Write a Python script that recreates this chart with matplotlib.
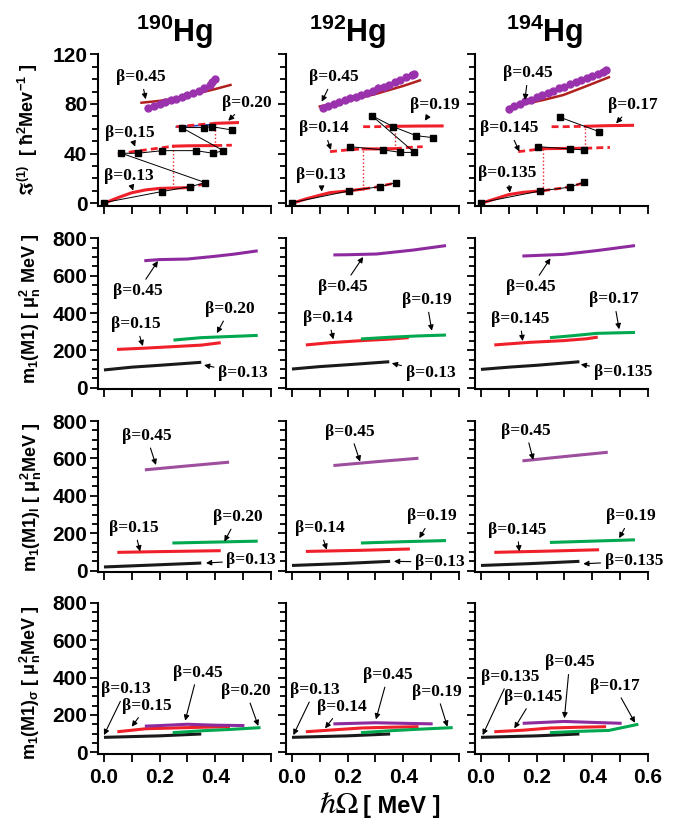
import matplotlib
matplotlib.use('Agg')
import matplotlib.pyplot as plt
from matplotlib.ticker import MultipleLocator, FuncFormatter

plt.rcParams['font.family'] = ['Liberation Sans', 'DejaVu Sans']
plt.rcParams['font.weight'] = 'bold'
plt.rcParams['mathtext.fontset'] = 'custom'
plt.rcParams['mathtext.rm'] = 'Liberation Sans:bold'
plt.rcParams['mathtext.bf'] = 'Liberation Sans:bold'
plt.rcParams['mathtext.it'] = 'Liberation Sans:bold'
plt.rcParams['mathtext.default'] = 'bf'
plt.rcParams['mathtext.fallback'] = 'stix'

NUCLEI = ['190', '192', '194']

# --- row 1: kinematic moment of inertia J(1) ---
# beta = 0.45 band, circles (calc.) and dark-red line
J1_CIRC_X = {
    '190': [0.16, 0.18, 0.20, 0.22, 0.24, 0.26, 0.28, 0.30, 0.32, 0.34, 0.36, 0.38, 0.39, 0.40],
    '192': [0.11, 0.13, 0.15, 0.17, 0.19, 0.21, 0.23, 0.25, 0.27, 0.29, 0.31, 0.33, 0.35, 0.37,
            0.39, 0.41, 0.43, 0.44],
    '194': [0.10, 0.12, 0.14, 0.16, 0.18, 0.20, 0.22, 0.24, 0.26, 0.28, 0.30, 0.32, 0.34, 0.36,
            0.38, 0.40, 0.42, 0.44, 0.45],
}
J1_CIRC_Y = {
    '190': [76.5, 78.5, 80, 81.5, 83, 84, 85.5, 87, 88.5, 90.5, 92.5, 95, 97.5, 100.5],
    '192': [76.5, 78.5, 80, 81.5, 83, 84.5, 86, 87.5, 89, 90.5, 92.5, 94, 95.5, 97.5,
            99.5, 101.5, 103, 104],
    '194': [75.7, 78, 80.3, 82, 83.5, 85.5, 87.5, 89, 90.5, 92.5, 94, 96, 97.5, 99.5,
            101, 102.5, 104.5, 106, 107],
}
J1_LINE_X = {
    '190': [0.135, 0.20, 0.25, 0.30, 0.345, 0.40, 0.455],
    '192': [0.10, 0.20, 0.30, 0.40, 0.46],
    '194': [0.10, 0.224, 0.296, 0.368, 0.46],
}
J1_LINE_Y = {
    '190': [81, 82.5, 84.3, 86.5, 89, 92, 95.3],
    '192': [78, 82.5, 88, 94.5, 99],
    '194': [77.3, 83.2, 87.2, 93.4, 101.5],
}

# experimental J(1), None breaks the connecting line
J1_EXP_X = {
    '190': [0.0, 0.207, 0.31, 0.365, 0.063, 0.121, 0.21, 0.33, 0.393, 0.429,
            0.279, 0.36, 0.388, 0.462],
    '192': [0.0, 0.206, 0.317, 0.373, None, 0.209, 0.328, 0.39, 0.44,
            0.287, 0.364, 0.446, 0.506],
    '194': [0.0, 0.214, 0.32, 0.37, None, 0.206, 0.32, 0.371, None, 0.284, 0.425],
}
J1_EXP_Y = {
    '190': [0.5, 9.4, 13.4, 16.6, 40.3, 40.3, 42.4, 42.4, 40.3, 42.4,
            61, 61, 61.7, 59],
    '192': [0.5, 10, 13.4, 16.6, None, 45.6, 43, 41, 41,
            70.6, 61.7, 54.5, 52.9],
    '194': [0.5, 10, 13, 17, None, 45.6, 43.8, 43, None, 69.3, 57.7],
}

# calculated bands: (x, y, solid_from, solid_to), dashed elsewhere
J1_BAND_LOW = {
    '190': ([0.0, 0.05, 0.10, 0.15, 0.20, 0.25, 0.30, 0.37],
            [0, 4.5, 8.5, 10.8, 12, 12.3, 12.6, 16], 0.0, 0.30),
    '192': ([0.0, 0.05, 0.10, 0.137, 0.20, 0.256, 0.30, 0.377],
            [0, 3.5, 6.5, 8.6, 9.9, 11.5, 13, 16.6], 0.0, 0.256),
    '194': ([0.0, 0.05, 0.10, 0.15, 0.224, 0.30, 0.375],
            [0, 3.5, 7, 8.8, 10.2, 12.5, 16.6], 0.0, 0.224),
}
J1_BAND_MID = {
    '190': ([0.05, 0.10, 0.15, 0.20, 0.25, 0.30, 0.35, 0.40, 0.46],
            [39.5, 41.5, 43, 44.5, 46, 46.3, 46.4, 46.5, 46.8], 0.25, 0.40),
    '192': ([0.137, 0.20, 0.256, 0.30, 0.37, 0.42, 0.47],
            [41.6, 43, 43.8, 43.8, 44, 45, 45.6], 0.256, 0.37),
    '194': ([0.134, 0.18, 0.224, 0.30, 0.375, 0.42, 0.464],
            [41.6, 42.8, 44, 44.2, 44.3, 44.7, 45], 0.224, 0.375),
}
J1_BAND_TOP = {
    '190': ([0.26, 0.30, 0.35, 0.40, 0.48], [61.7, 62.5, 63.5, 64.4, 65], 0.40, 0.48),
    '192': ([0.256, 0.30, 0.37, 0.45, 0.54], [61.7, 61.7, 62, 62.2, 62.3], 0.37, 0.54),
    '194': ([0.254, 0.30, 0.375, 0.45, 0.545], [61.7, 61.7, 62, 62.5, 62.8], 0.375, 0.545),
}
# blue reference line under the top band of 190Hg
J1_BLUE_X = [0.26, 0.33, 0.40]
J1_BLUE_Y = [61.5, 62.5, 63.5]
# band crossings (x, y_low, y_high)
J1_CROSS = {
    '190': [(0.25, 12.3, 46), (0.40, 46.5, 64.4)],
    '192': [(0.256, 11.5, 43.8), (0.37, 44, 62)],
    '194': [(0.224, 10.2, 44), (0.375, 44.3, 62)],
}

BETAS = {
    '190': ['0.13', '0.15', '0.20', '0.45'],
    '192': ['0.13', '0.14', '0.19', '0.45'],
    '194': ['0.135', '0.145', '0.17', '0.45'],
}

# --- rows 2-4: m1(M1) total, orbital, spin; per beta (x, y) ---
M1_TOT = {
    '190': [([0.0, 0.1, 0.2, 0.35], [95, 110, 120, 136]),
            ([0.047, 0.15, 0.25, 0.35, 0.42], [205, 212, 220, 228, 241]),
            ([0.25, 0.35, 0.45, 0.553], [255, 268, 274, 280]),
            ([0.145, 0.2, 0.3, 0.395, 0.467, 0.553], [680, 686, 689, 703, 715, 733])],
    '192': [([0.0, 0.1, 0.2, 0.35], [100, 113, 123, 139]),
            ([0.05, 0.137, 0.25, 0.35, 0.42], [229, 241, 252, 260, 268]),
            ([0.248, 0.35, 0.45, 0.554], [261, 270, 277, 282]),
            ([0.149, 0.2, 0.305, 0.436, 0.554], [711, 712, 716, 737, 761])],
    '194': [([0.0, 0.1, 0.2, 0.354], [98, 110, 120, 139]),
            ([0.048, 0.176, 0.296, 0.38, 0.42], [229, 243, 252, 262, 271]),
            ([0.248, 0.32, 0.416, 0.554], [268, 277, 291, 296]),
            ([0.149, 0.296, 0.416, 0.554], [705, 714, 734, 761])],
}
M1_ORB = {
    '190': [([0.0, 0.17, 0.35], [20, 30, 41]),
            ([0.048, 0.2, 0.42], [98, 102, 107]),
            ([0.246, 0.4, 0.553], [148, 153, 158]),
            ([0.147, 0.3, 0.45], [539, 560, 580])],
    '192': [([0.0, 0.18, 0.353], [28, 38, 50]),
            ([0.05, 0.25, 0.424], [103, 109, 116]),
            ([0.248, 0.4, 0.554], [148, 155, 161]),
            ([0.149, 0.3, 0.455], [562, 582, 601])],
    '194': [([0.0, 0.18, 0.354], [28, 38, 50]),
            ([0.048, 0.25, 0.425], [98, 105, 112]),
            ([0.248, 0.4, 0.554], [151, 158, 165]),
            ([0.149, 0.3, 0.456], [587, 610, 633])],
}
M1_SPIN = {
    '190': [([0.0, 0.2, 0.35], [80, 88, 98]),
            ([0.048, 0.1, 0.15, 0.25, 0.35, 0.453], [110, 118, 126, 130, 134, 137]),
            ([0.247, 0.35, 0.45, 0.563], [105, 115, 122, 132]),
            ([0.147, 0.2, 0.3, 0.4, 0.505], [140, 143, 150, 145, 143])],
    '192': [([0.0, 0.2, 0.353], [80, 88, 98]),
            ([0.05, 0.15, 0.25, 0.35, 0.455], [110, 120, 130, 134, 137]),
            ([0.248, 0.35, 0.45, 0.578], [105, 115, 123, 132]),
            ([0.149, 0.3, 0.4, 0.506], [152, 158, 155, 152])],
    '194': [([0.0, 0.2, 0.354], [80, 88, 98]),
            ([0.048, 0.15, 0.25, 0.35, 0.45], [110, 118, 130, 134, 137]),
            ([0.248, 0.35, 0.46, 0.566], [105, 112, 117, 150]),
            ([0.15, 0.3, 0.4, 0.506], [155, 165, 160, 155])],
}

# label placement per panel: (beta index, arrow tip, text centre)
NOTES = {
    (0, '190'): [(3, (0.15, 83.8), (0.134, 101.5)), (2, (0.447, 66.5), (0.513, 81)),
                 (1, (0.112, 45.6), (0.094, 57)), (0, (0.105, 10.2), (0.088, 22))],
    (0, '192'): [(3, (0.107, 81.8), (0.15, 101.5)), (2, (0.478, 66.5), (0.514, 79)),
                 (1, (0.14, 43), (0.114, 60.4)), (0, (0.107, 9.4), (0.105, 22.8))],
    (0, '194'): [(3, (0.158, 83.2), (0.17, 104.7)), (2, (0.486, 64.4), (0.545, 79)),
                 (1, (0.138, 41.6), (0.10, 60.4)), (0, (0.104, 8.6), (0.096, 24.2))],
    (1, '190'): [(3, (0.194, 678), (0.122, 517)), (2, (0.406, 292), (0.453, 421)),
                 (1, (0.14, 223), (0.115, 340)), (0, (0.36, 121), (0.50, 78))],
    (1, '192'): [(3, (0.256, 700), (0.183, 539)), (2, (0.503, 305), (0.484, 469)),
                 (1, (0.149, 259), (0.13, 373)), (0, (0.359, 131), (0.498, 80))],
    (1, '194'): [(3, (0.25, 693), (0.181, 538)), (2, (0.497, 313), (0.478, 473)),
                 (1, (0.15, 250), (0.14, 368)), (0, (0.359, 125), (0.51, 82))],
    (2, '190'): [(3, (0.187, 565), (0.153, 720)), (2, (0.433, 156), (0.48, 286)),
                 (1, (0.13, 103), (0.109, 228)), (0, (0.367, 41), (0.53, 55))],
    (2, '192'): [(3, (0.245, 583), (0.209, 743)), (2, (0.458, 174), (0.504, 290)),
                 (1, (0.125, 112), (0.10, 228)), (0, (0.367, 50), (0.532, 46))],
    (2, '194'): [(3, (0.188, 592), (0.161, 748)), (2, (0.497, 174), (0.54, 290)),
                 (1, (0.138, 103), (0.13, 219)), (0, (0.368, 37), (0.55, 50))],
    (3, '190'): [(0, (0.0, 92), (0.08, 337)), (1, (0.10, 137), (0.155, 249)),
                 (3, (0.292, 169), (0.337, 426)), (2, (0.555, 141), (0.51, 328))],
    (3, '192'): [(0, (0.005, 92), (0.083, 333)), (1, (0.119, 128), (0.179, 244)),
                 (3, (0.302, 176), (0.346, 413)), (2, (0.559, 137), (0.52, 324))],
    (3, '194'): [(0, (0.006, 92), (0.104, 404)), (1, (0.12, 128), (0.189, 297)),
                 (3, (0.30, 182), (0.319, 481)), (2, (0.554, 158), (0.48, 355))],
}
# row 3 of 194Hg is labelled 0.19 for the green curve
ORB_GREEN_194 = '0.19'

BLACK = '#1a1a1a'
RED = '#f0202a'
GREEN = '#00a84f'
PURPLE = '#8d2b9e'
PURPLE_ORB = '#9d4f9d'
DARKRED = '#b0201e'
CIRCLE = '#9a32ad'
LINE_COLORS = [BLACK, RED, GREEN, PURPLE]

W, H = 681, 831
COL_LEFT = [98.4, 286.4, 475.4]
COL_W = 172.4
ROWS = [(54.3, 206.4), (238.3, 389.2), (421.0, 572.2), (602.7, 753.8)]

fig = plt.figure(figsize=(W / 100, H / 100), dpi=100)


def note(ax, text, tip, pos):
    ax.annotate(text, xy=tip, xytext=pos, ha='center', va='center',
                family=['Liberation Serif', 'DejaVu Serif'], fontsize=12.5,
                fontweight='bold', zorder=6,
                arrowprops=dict(arrowstyle='-|>', color='black', lw=0.8,
                                mutation_scale=8, shrinkA=1, shrinkB=0))


def draw_band(ax, band):
    xs, ys, s0, s1 = band
    pre = [(x, y) for x, y in zip(xs, ys) if x <= s0]
    mid = [(x, y) for x, y in zip(xs, ys) if s0 <= x <= s1]
    post = [(x, y) for x, y in zip(xs, ys) if x >= s1]
    for seg in (pre, post):
        if len(seg) > 1:
            ax.plot(*zip(*seg), color=RED, lw=2.0, ls=(0, (2.5, 1.5)), zorder=3)
    if len(mid) > 1:
        ax.plot(*zip(*mid), color=RED, lw=2.2, zorder=3)


for r, (top, bot) in enumerate(ROWS):
    for c, nuc in enumerate(NUCLEI):
        ax = fig.add_axes([COL_LEFT[c] / W, 1 - bot / H, COL_W / W, (bot - top) / H])
        ax.set_xlim(-0.02, 0.6)
        for s in ('top', 'right'):
            ax.spines[s].set_visible(False)
        for s in ('left', 'bottom'):
            ax.spines[s].set_linewidth(1.5)
        ax.xaxis.set_major_locator(MultipleLocator(0.1))
        if c == 2:
            fmt = FuncFormatter(lambda v, p: f'{v:.1f}' if round(v * 10) % 2 == 0 else '')
        else:
            fmt = FuncFormatter(lambda v, p: f'{v:.1f}'
                                if round(v * 10) % 2 == 0 and round(v * 10) < 6 else '')
        ax.xaxis.set_major_formatter(fmt)
        ax.tick_params(axis='both', which='major', direction='out', length=6,
                       width=1.3, labelsize=15)
        ax.tick_params(axis='y', which='minor', direction='out', length=4.5, width=1.3)
        ax.tick_params(axis='x', labelbottom=(r == 3), pad=4)
        ax.tick_params(axis='y', labelleft=(c == 0), pad=2)

        betas = BETAS[nuc]
        if r == 0:
            ax.set_ylim(-2.5, 120)
            ax.yaxis.set_major_locator(MultipleLocator(40))
            ax.yaxis.set_minor_locator(MultipleLocator(10))
            # back-bending bands
            for band in (J1_BAND_LOW[nuc], J1_BAND_MID[nuc], J1_BAND_TOP[nuc]):
                draw_band(ax, band)
            if nuc == '190':
                ax.plot(J1_BLUE_X, J1_BLUE_Y, color='#2040c0', lw=1.2, zorder=2)
            for xc, y0, y1 in J1_CROSS[nuc]:
                ax.plot([xc, xc], [y0, y1], color=RED, lw=1.0, ls=':', zorder=2)
            ex = [float('nan') if v is None else v for v in J1_EXP_X[nuc]]
            ey = [float('nan') if v is None else v for v in J1_EXP_Y[nuc]]
            ax.plot(ex, ey, color='black', lw=0.7, marker='s', ms=4.5,
                    mfc='black', mec='black', zorder=4)
            ax.plot(J1_LINE_X[nuc], J1_LINE_Y[nuc], color=DARKRED, lw=1.8, zorder=4)
            ax.plot(J1_CIRC_X[nuc], J1_CIRC_Y[nuc], ls='none', marker='o', ms=5,
                    color=CIRCLE, zorder=5)
        else:
            ax.set_ylim(-8, 800)
            ax.yaxis.set_major_locator(MultipleLocator(200))
            ax.yaxis.set_minor_locator(MultipleLocator(50))
            data = [M1_TOT, M1_ORB, M1_SPIN][r - 1][nuc]
            for i, (xs, ys) in enumerate(data):
                col = LINE_COLORS[i]
                if i == 3 and r == 2:
                    col = PURPLE_ORB
                ax.plot(xs, ys, color=col, lw=2.2, solid_capstyle='butt', zorder=3)

        for i, tip, pos in NOTES[(r, nuc)]:
            b = betas[i]
            if r == 2 and nuc == '194' and i == 2:
                b = ORB_GREEN_194
            note(ax, f'β={b}', tip, pos)

# column headers
for xc, nuc in zip([175, 348, 545], NUCLEI):
    fig.text(xc / W, 1 - 42 / H, rf'$^{{{nuc}}}$Hg', fontsize=22, ha='center',
             va='baseline')

ylabels = [
    (28, 130, r'$\Im^{(1)}$  [ $\hbar^{2}$Mev$^{-1}$ ]'),
    (30, 309, r'm$_1$(M1) [ $\mu_n^2$ MeV ]'),
    (31, 497, r'm$_1$(M1)$_l$ [ $\mu_n^2$MeV ]'),
    (30, 683, r'm$_1$(M1)$_\sigma$ [ $\mu_n^2$MeV ]'),
]
for x, y, txt in ylabels:
    fig.text(x / W, 1 - y / H, txt, rotation=90, fontsize=13, ha='center', va='center')

# x axis title: serif hbar-Omega followed by the unit
fig.text(359 / W, 1 - 806 / H, 'ℏΩ', fontsize=22, fontweight='normal',
         family=['STIXGeneral', 'DejaVu Serif'], ha='right', va='center')
fig.text(363 / W, 1 - 806 / H, '[ MeV ]', fontsize=17, ha='left', va='center')

fig.savefig('out.png', dpi=100)
